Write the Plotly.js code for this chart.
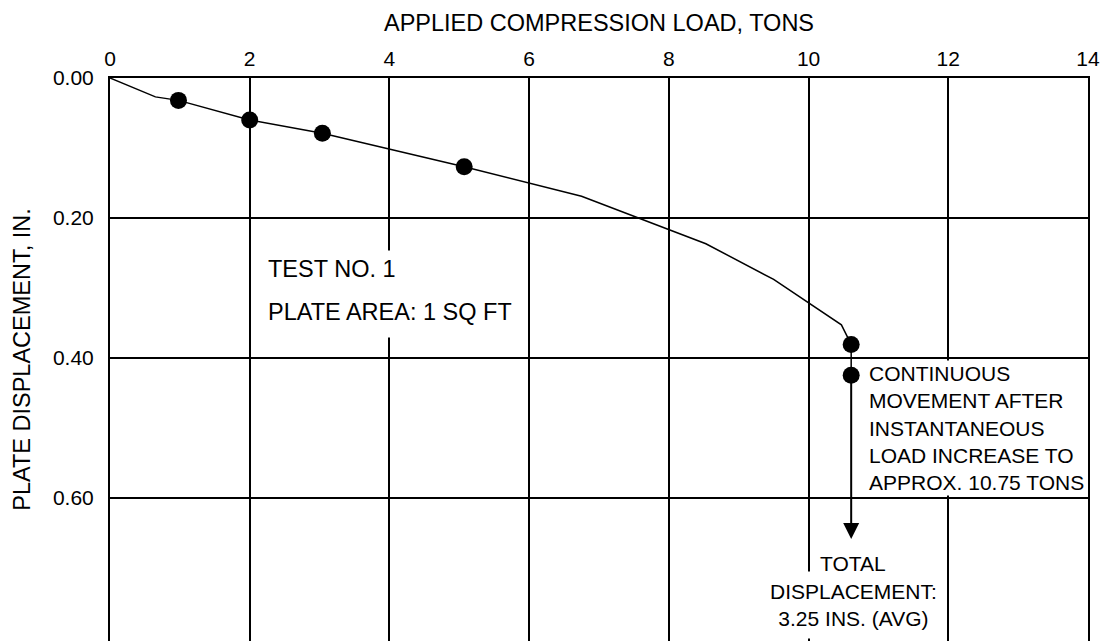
<!DOCTYPE html>
<html>
<head>
<meta charset="utf-8">
<script src="https://cdn.plot.ly/plotly-3.0.1.min.js"></script>
<style>html,body{margin:0;padding:0;background:#fff;}#chart{width:1107px;height:643px;}</style>
</head>
<body>
<div id="chart"></div>
<script>
// Load-displacement curve (tons, inches)
const curveLoad = [0, 0.65, 0.98, 2.0, 3.04, 5.07, 6.75, 8.53, 9.5, 10.47, 10.61, 10.61];
const curveDisp = [0, 0.027, 0.032, 0.060, 0.079, 0.127, 0.169, 0.237, 0.288, 0.353, 0.381, 0.425];
// Measured points (markers)
const pointLoad = [0.98, 2.0, 3.04, 5.07, 10.61, 10.61];
const pointDisp = [0.032, 0.060, 0.079, 0.127, 0.381, 0.425];
// Continuous movement arrow
const arrowLoad = 10.61;
const arrowFrom = 0.425;
const arrowTo = 0.659;
// Axis ticks
const xTicks = [0, 2, 4, 6, 8, 10, 12, 14];
const yTicks = [0, 0.2, 0.4, 0.6];
const yTickText = ['0.00', '0.20', '0.40', '0.60'];

const FONT = 'Arial, "Liberation Sans", Helvetica, sans-serif';

const traces = [
  {x: curveLoad, y: curveDisp, mode: 'lines', line: {color: '#000', width: 1.5}, hoverinfo: 'skip', showlegend: false},
  {x: pointLoad, y: pointDisp, mode: 'markers', marker: {color: '#000', size: 17}, showlegend: false}
];

const layout = {
  width: 1107, height: 643,
  margin: {l: 110, r: 19, t: 78, b: 2},
  paper_bgcolor: '#fff', plot_bgcolor: '#fff',
  font: {family: FONT, color: '#000', size: 21},
  showlegend: false,
  xaxis: {
    side: 'top', range: [0, 14], tickvals: xTicks, ticktext: xTicks.map(String),
    showgrid: true, gridcolor: '#000', gridwidth: 2,
    showline: true, linecolor: '#000', linewidth: 2, mirror: false,
    zeroline: false, ticks: '', ticklabelstandoff: 2,
    tickfont: {size: 21, family: FONT},
    title: {text: 'APPLIED COMPRESSION LOAD, TONS', font: {size: 23.5, family: FONT}, standoff: 8}
  },
  yaxis: {
    range: [0.805, 0], tickvals: yTicks, ticktext: yTickText,
    showgrid: true, gridcolor: '#000', gridwidth: 2,
    showline: true, linecolor: '#000', linewidth: 2, mirror: true,
    zeroline: false, ticks: '', ticklabelstandoff: 10,
    tickfont: {size: 21, family: FONT},
    title: {text: 'PLATE DISPLACEMENT, IN.', font: {size: 23.5, family: FONT}, standoff: 16}
  },
  annotations: [
    {x: 2.21, y: 0.273, xref: 'x', yref: 'y', text: 'TEST NO. 1', showarrow: false,
     xanchor: 'left', yanchor: 'middle', align: 'left', bgcolor: '#fff', borderpad: 3, height: 30,
     font: {size: 23.5, family: FONT, color: '#000'}},
    {x: 2.21, y: 0.335, xref: 'x', yref: 'y', text: 'PLATE AREA: 1 SQ FT', showarrow: false,
     xanchor: 'left', yanchor: 'middle', align: 'left', bgcolor: '#fff', borderpad: 3, height: 44,
     font: {size: 23.5, family: FONT, color: '#000'}},
    {x: 10.83, y: 0.501, xref: 'x', yref: 'y',
     text: 'CONTINUOUS<br>MOVEMENT AFTER<br>INSTANTANEOUS<br>LOAD INCREASE TO<br>APPROX. 10.75 TONS',
     showarrow: false, xanchor: 'left', yanchor: 'middle', align: 'left', bgcolor: '#fff', borderpad: 1,
     font: {size: 21, family: FONT, color: '#000'}},
    {x: arrowLoad, y: arrowTo, ax: arrowLoad, ay: arrowFrom, xref: 'x', yref: 'y', axref: 'x', ayref: 'y',
     text: '', showarrow: true, arrowhead: 2, arrowsize: 1.6, arrowwidth: 2, arrowcolor: '#000', standoff: 0},
    {x: 10.64, y: 0.694, xref: 'x', yref: 'y', text: 'TOTAL', showarrow: false,
     xanchor: 'center', yanchor: 'middle', align: 'center',
     font: {size: 21, family: FONT, color: '#000'}},
    {x: 10.64, y: 0.753, xref: 'x', yref: 'y', text: 'DISPLACEMENT:<br>3.25 INS. (AVG)', showarrow: false,
     xanchor: 'center', yanchor: 'middle', align: 'center', bgcolor: '#fff', borderpad: 2, height: 62,
     font: {size: 21, family: FONT, color: '#000'}}
  ]
};

Plotly.newPlot('chart', traces, layout, {staticPlot: true, displayModeBar: false});
</script>
</body>
</html>
